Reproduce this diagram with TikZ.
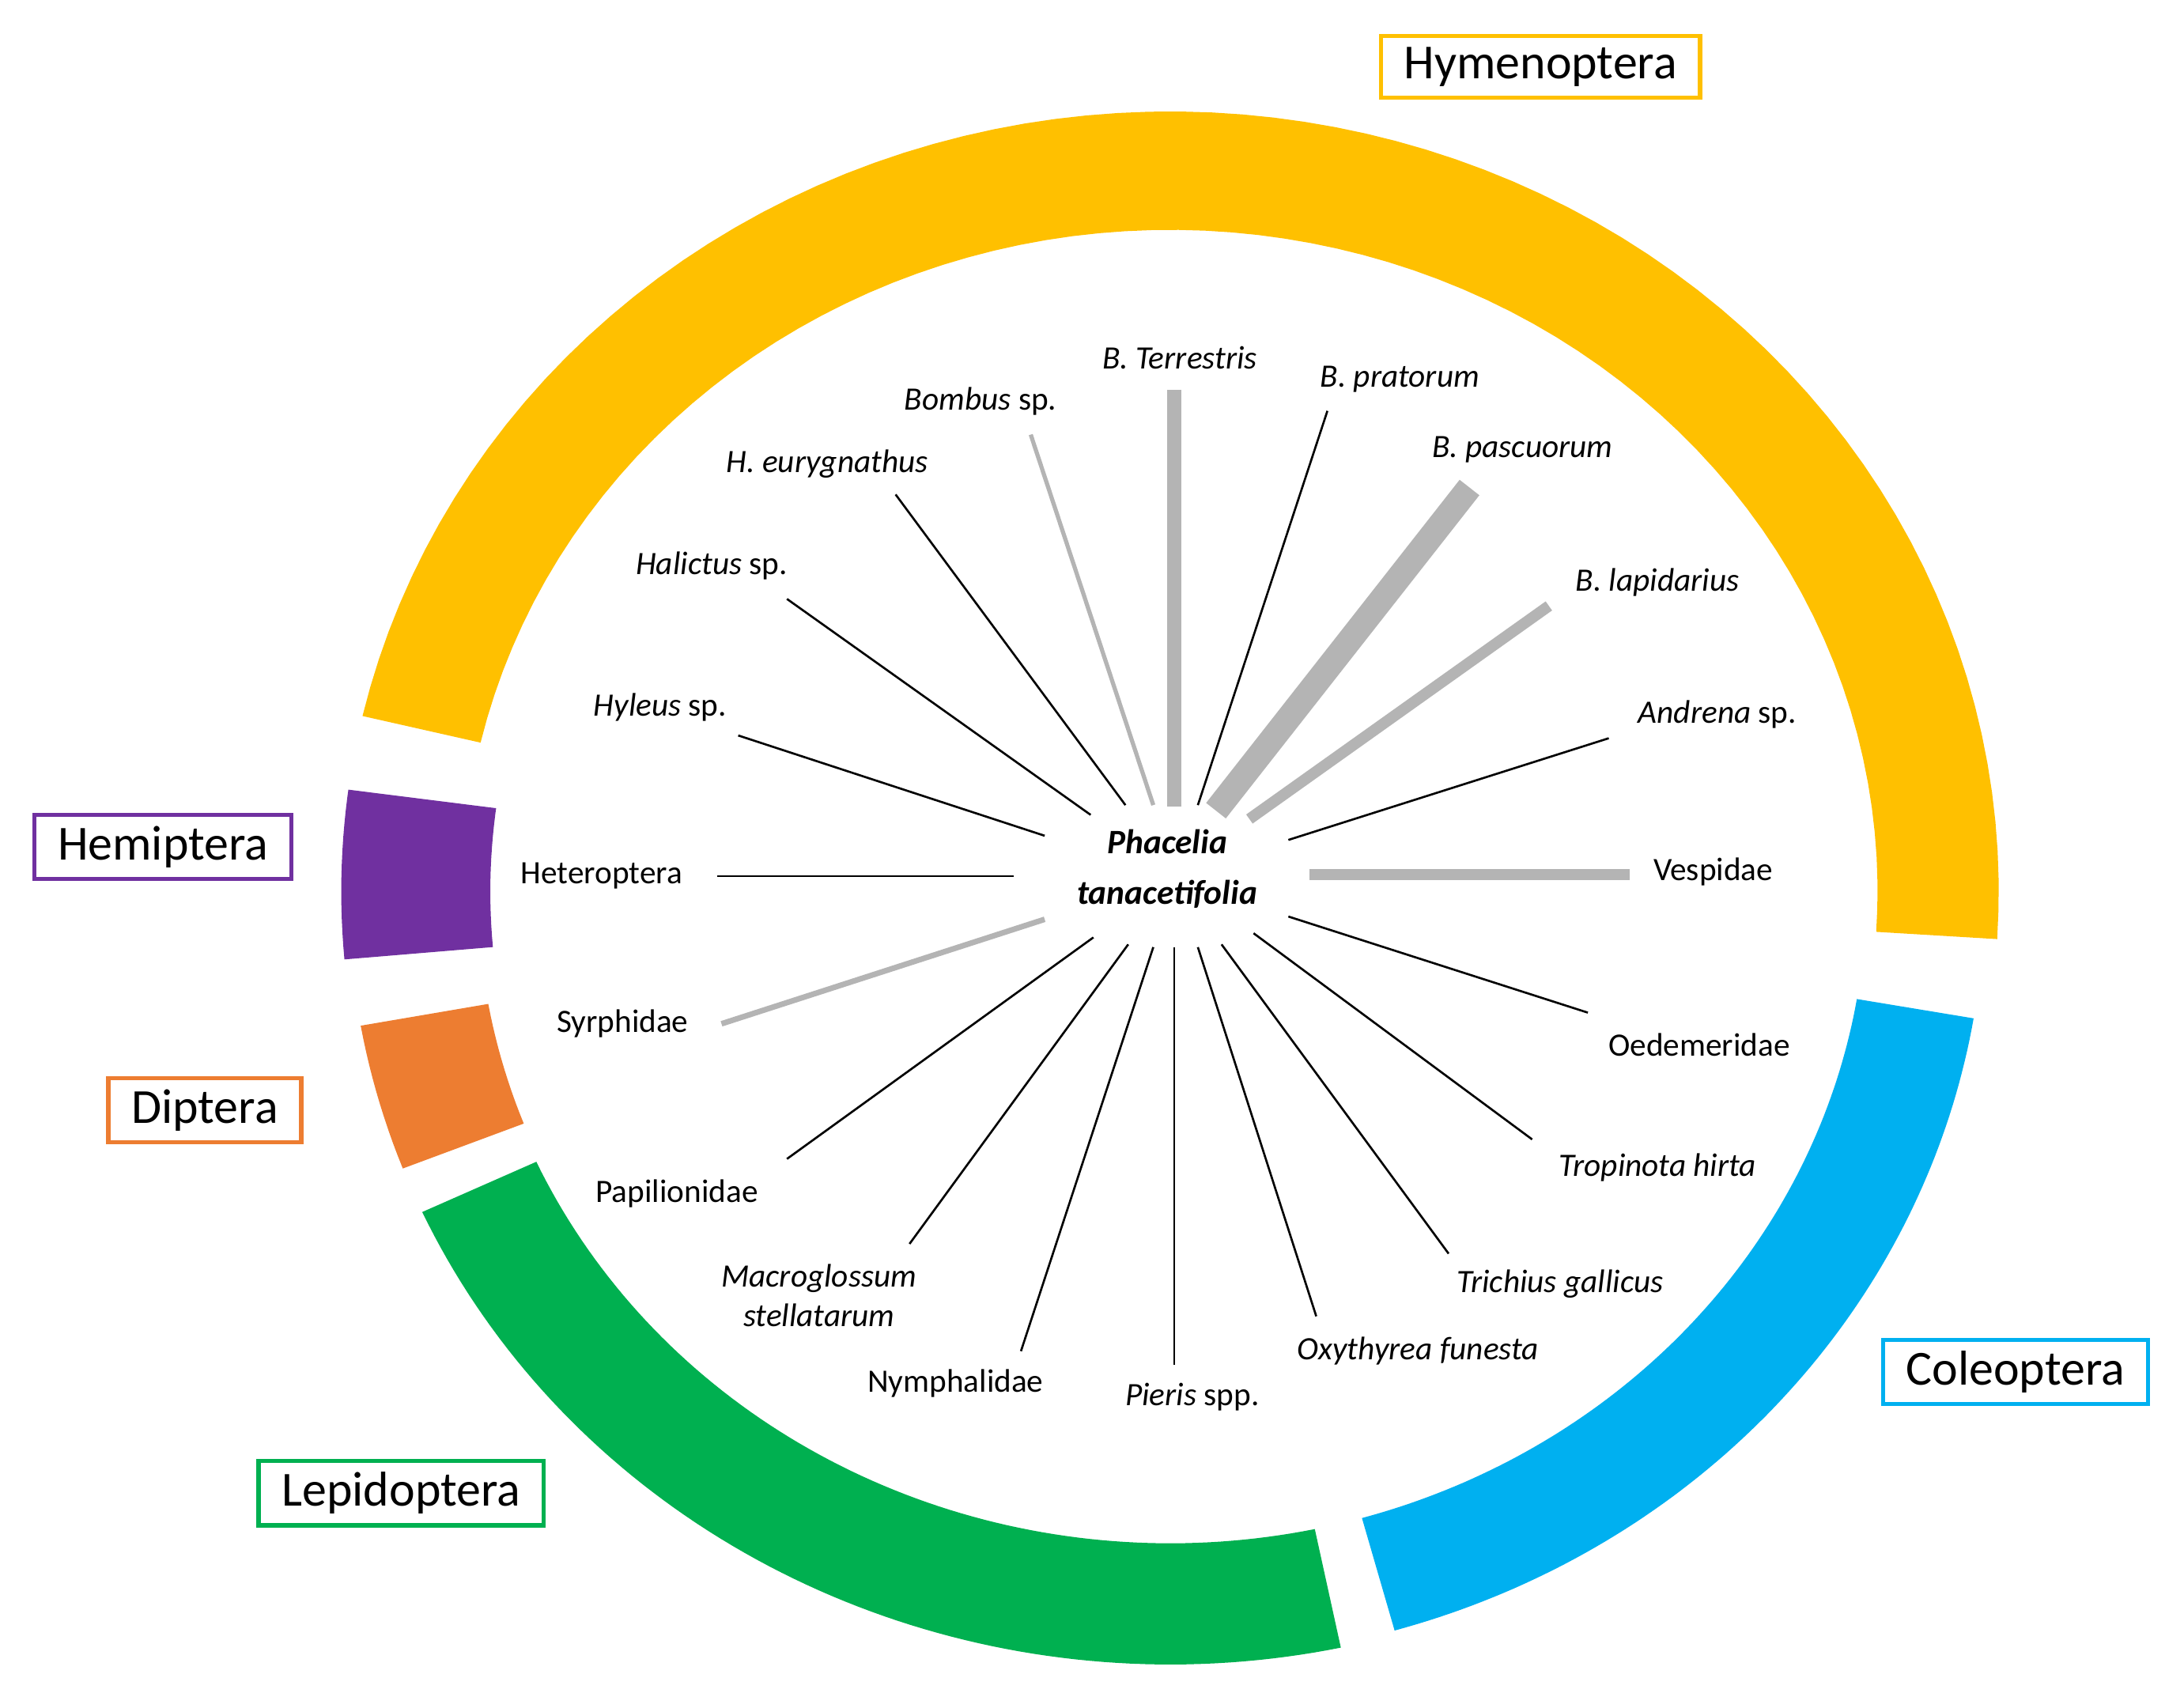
\documentclass[tikz,border=0pt]{standalone}
\usepackage{fontspec}
\setmainfont{Carlito}
\definecolor{hym}{HTML}{FFC000}
\definecolor{col}{HTML}{00B0F0}
\definecolor{lep}{HTML}{00B050}
\definecolor{dip}{HTML}{ED7D31}
\definecolor{hem}{HTML}{7030A0}
\definecolor{spk}{HTML}{B4B4B4}
\definecolor{thin}{HTML}{D2D2D2}
\begin{document}
\begin{tikzpicture}[x=0.3mm,y=-0.3mm,
  lab/.style={font=\fontsize{20}{24}\selectfont,inner sep=0pt,align=center},
  box/.style={draw=#1,line width=0.9mm,font=\fontsize{30}{34}\selectfont,minimum width=0pt,inner xsep=5mm,inner ysep=2.4mm},
  seg/.style={fill=#1,draw=none}]
\useasboundingbox (0,0) rectangle (1568,1215);
\def\cx{840}\def\cy{640}
% segments: color / t start / t end / rx out / ry out / rx in / ry in
\foreach \c/\a/\b/\ro/\so/\ri/\si in {hym/-3.5/167/595/560/508/475, col/-74/-9.5/585/552/500/468, lep/-155.5/-78/590/555/500/468, dip/-170/-159/590/555/497/465, hem/172.5/185/595/560/488/458}{
  \fill[\c] plot[domain=\a:\b,samples=80] ({\cx+\ro*cos(\x)},{\cy-\so*sin(\x)}) -- plot[domain=\b:\a,samples=80] ({\cx+\ri*cos(\x)},{\cy-\si*sin(\x)}) -- cycle;
}
\node[box=hym] (Hy) at (1106,48) {Hymenoptera};
\node[box=hem] (He) at (117,608) {Hemiptera};
\node[box=dip] (Di) at (147,797) {Diptera};
\node[box=lep] (Le) at (288,1072) {Lepidoptera};
\node[box=col] (Co) at (1447,985) {Coleoptera};
\node[lab,font=\fontsize{21}{31}\selectfont\bfseries\itshape] (P) at (838,624) {Phacelia\\tanacetifolia};
\foreach \n/\t/\lx/\ly/\xa/\ya/\xb/\yb/\w/\cc in {
 bt/\textit{B. Terrestris}/847/257/843/280/843/579/10/spk,
 bpr/\textit{B. pratorum}/1005/272/953/295/860/578/1.5/thin,
 bpa/\textit{B. pascuorum}/1093/323/1055/350/873/582/18/spk,
 bl/\textit{B. lapidarius}/1190/418/1112/435/897/588/8/spk,
 an/\textit{Andrena} sp./1233/513/1155/530/925/603/1.5/thin,
 ve/Vespidae/1230/626/1170/628/940/628/8/spk,
 oe/Oedemeridae/1220/750/1140/727/925/658/1.5/thin,
 tr/\textit{Tropinota hirta}/1190/838/1100/818/900/670/1.5/thin,
 tg/\textit{Trichius gallicus}/1120/922/1040/900/877/678/1.5/thin,
 ox/\textit{Oxythyrea funesta}/1018/970/945/945/860/680/1.5/thin,
 pi/\textit{Pieris} spp./856/1003/843/980/843/680/1.5/thin,
 ny/Nymphalidae/686/993/733/970/828/680/1.5/thin,
 ma/{\textit{Macroglossum}\\\textit{stellatarum}}/588/930/653/893/810/678/1.5/thin,
 pa/Papilionidae/486/857/565/832/785/673/1.5/thin,
 sy/Syrphidae/447/735/518/735/750/660/4/spk,
 ht/Heteroptera/432/629/515/629/728/629/1.5/thin,
 hy/\textit{Hyleus} sp./474/508/530/528/750/600/1.5/thin,
 ha/\textit{Halictus} sp./511/406/565/430/783/585/1.5/thin,
 he/\textit{H. eurygnathus}/594/333/643/355/808/578/1.5/thin,
 bo/\textit{Bombus} sp./704/288/740/312/828/578/3/spk}{
 \node[lab] (L\n) at (\lx,\ly) {\t};
 \coordinate (A\n) at (\xa,\ya);
 \coordinate (B\n) at (\xb,\yb);
 \draw[\cc,line width=\w*0.3mm] (A\n) -- (B\n);
}
\end{tikzpicture}
\end{document}
